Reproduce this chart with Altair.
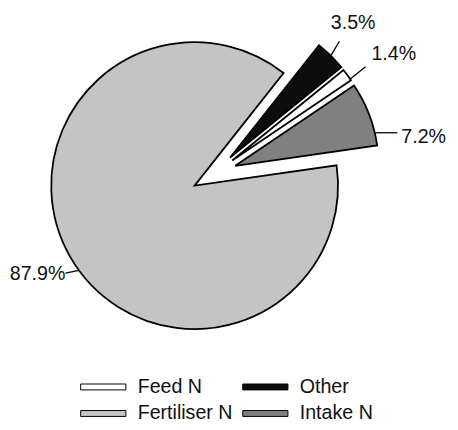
import math
import altair as alt
import pandas as pd

# ---- data ----
categories = ["Other", "Feed N", "Intake N", "Fertiliser N"]   # clockwise order
values = [3.5, 1.4, 7.2, 87.9]
labels = ["3.5%", "1.4%", "7.2%", "87.9%"]
legend_order = ["Feed N", "Other", "Fertiliser N", "Intake N"]
fill_colors = ["#ffffff", "#0d0d0d", "#c4c4c4", "#808080"]       # in legend_order

# ---- layout / style ----
W, H = 450, 422
CX, CY, R = 190, 177, 146
START = 38.3          # degrees, clockwise from 12 o'clock
EXPLODE = 46
EXPLODE_AXIS = 59
FONT = "Liberation Sans"

label_style = {
    "Other":        dict(shift=0.0,  ldeg=31.0,  llen=17, tdx=14, tdy=-18.5, align="center"),
    "Feed N":       dict(shift=2.0,  ldeg=51.0,  llen=20, tdx=6,  tdy=-12.4, align="left"),
    "Intake N":     dict(shift=7.8,  ldeg=90.0,  llen=23, tdx=4,  tdy=4.0,   align="left"),
    "Fertiliser N": dict(shift=-6.3, ldeg=258.7, llen=14, tdx=0,  tdy=1.6,   align="right"),
}

rows = []
for i, (c, v, l) in enumerate(zip(categories, values, labels)):
    r = dict(cat=c, value=v, label=l, ord=i)
    r.update(label_style[c])
    rows.append(r)
df = pd.DataFrame(rows)

s_rad = START * math.pi / 180
color_scale = alt.Scale(domain=legend_order, range=fill_colors)

base = alt.Chart(df).transform_window(
    cum="sum(value)", sort=[alt.SortField("ord")], frame=[None, 0]
).transform_calculate(
    t0="datum.cum - datum.value",
    t1="datum.cum",
    mid=f"{START} + 3.6*(datum.cum - datum.value/2)",
    exp=f"datum.cat == 'Fertiliser N' ? 0 : {EXPLODE}",
    edir=f"(datum.mid + {EXPLODE_AXIS})/2*PI/180",
    cx=f"{CX} + datum.exp*sin(datum.edir)",
    cy=f"{CY} - datum.exp*cos(datum.edir)",
    aang="(datum.mid + datum.shift)*PI/180",
    lrad="datum.ldeg*PI/180",
    ax=f"datum.cx + {R}*sin(datum.aang)",
    ay=f"datum.cy - {R}*cos(datum.aang)",
    ex="datum.ax + datum.llen*sin(datum.lrad)",
    ey="datum.ay - datum.llen*cos(datum.lrad)",
    tx="datum.ex + datum.tdx",
    ty="datum.ey + datum.tdy",
)

arcs = base.mark_arc(radius=R, stroke="black", strokeWidth=1.8).encode(
    theta=alt.Theta("t0:Q", scale=alt.Scale(domain=[0, 100], range=[s_rad, s_rad + 2 * math.pi])),
    theta2="t1:Q",
    x=alt.X("cx:Q", scale=None),
    y=alt.Y("cy:Q", scale=None),
    color=alt.Color("cat:N", scale=color_scale, legend=None),
)

leaders = base.mark_rule(color="black", strokeWidth=1.3).encode(
    x=alt.X("ax:Q", scale=None), y=alt.Y("ay:Q", scale=None),
    x2="ex:Q", y2="ey:Q",
)

texts = [
    base.transform_filter(f"datum.align == '{a}'").mark_text(
        align=a, baseline="middle", fontSize=20, font=FONT, color="#111111"
    ).encode(
        x=alt.X("tx:Q", scale=None), y=alt.Y("ty:Q", scale=None), text="label:N"
    )
    for a in ["left", "center", "right"]
]

# ---- legend (two columns) ----
LX, LY, LCOL, LROW, SW, SH, LGAP = 74, 382, 165, 27, 46, 6, 12
leg = pd.DataFrame(dict(cat=legend_order, i=list(range(len(legend_order)))))
legbase = alt.Chart(leg).transform_calculate(
    x0=f"{LX} + (datum.i % 2)*{LCOL}",
    yc=f"{LY} + floor(datum.i/2)*{LROW}",
    x1=f"datum.x0 + {SW}",
    y0=f"datum.yc - {SH/2}",
    y1=f"datum.yc + {SH/2}",
    xt=f"datum.x1 + {LGAP}",
)
swatches = legbase.mark_rect(stroke="black", strokeWidth=1).encode(
    x=alt.X("x0:Q", scale=None), x2="x1:Q",
    y=alt.Y("y0:Q", scale=None), y2="y1:Q",
    color=alt.Color("cat:N", scale=color_scale, legend=None),
)
legtext = legbase.mark_text(align="left", baseline="middle", fontSize=20, font=FONT, color="#111111").encode(
    x=alt.X("xt:Q", scale=None), y=alt.Y("yc:Q", scale=None), text="cat:N"
)

chart = alt.layer(arcs, leaders, *texts, swatches, legtext).properties(
    width=W, height=H, padding=0, autosize="none"
).configure_view(stroke=None)

chart.save("out.html", embed_options={"renderer": "svg", "actions": False})
